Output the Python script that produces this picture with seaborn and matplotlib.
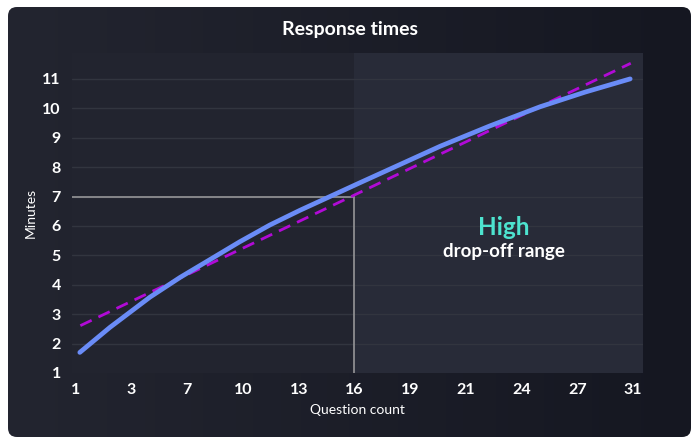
import matplotlib
matplotlib.use("Agg")
import matplotlib.pyplot as plt
import numpy as np
import pandas as pd
import seaborn as sns
from matplotlib.patches import FancyBboxPatch

# tick labels on the x axis (evenly spaced in the chart)
question_ticks = ["1", "3", "7", "10", "13", "16", "19", "21", "24", "27", "31"]
minute_ticks = [1, 2, 3, 4, 5, 6, 7, 8, 9, 10, 11]

# response time curve, x in tick-slot units
curve_x = [0.07, 0.61, 1.33, 1.87, 2.41, 2.94, 3.48, 4.02, 4.56, 5.10,
           5.82, 6.54, 7.43, 8.33, 9.14, 9.95]
curve_y = [1.70, 2.55, 3.58, 4.25, 4.86, 5.46, 6.03, 6.53, 7.00, 7.47,
           8.09, 8.71, 9.40, 10.05, 10.55, 11.00]

# dashed trend line
trend_x = [0.08, 9.96]
trend_y = [2.61, 11.53]

# marker lines at 16 questions / 7 minutes
marker_slot = 5
marker_minutes = 7

sns.set_theme(style="dark")
plt.rcParams["font.family"] = ["Lato", "DejaVu Sans"]

fig = plt.figure(figsize=(7, 4.45), dpi=100)
fig.patch.set_facecolor("white")

# card background with a horizontal gradient
bg = fig.add_axes([0, 0, 1, 1], zorder=-2)
bg.set_xlim(0, 700)
bg.set_ylim(445, 0)
bg.axis("off")
grad = np.linspace(0, 1, 256).reshape(1, -1)
cmap = matplotlib.colors.LinearSegmentedColormap.from_list("card", ["#232530", "#151721"])
img = bg.imshow(grad, cmap=cmap, extent=[8, 691, 437, 7], aspect="auto")
card = FancyBboxPatch((8, 7), 683, 430, boxstyle="round,pad=0,rounding_size=9",
                      transform=bg.transData, facecolor="none", edgecolor="none")
bg.add_patch(card)
img.set_clip_path(card)

ax = fig.add_axes([72 / 700, 1 - 373 / 445, 571 / 700, 320 / 445])
ax.set_facecolor("#22242f")
ax.set_xlim(-0.07, 10.18)
ax.set_ylim(1, 11.88)

ax.axvspan(marker_slot, 10.18, color="#282b38", zorder=0, lw=0)
for m in minute_ticks[1:]:
    ax.axhline(m, color="#32353f", lw=1, zorder=1)

ax.plot([-0.07, marker_slot], [marker_minutes, marker_minutes], color="#8d8d90", lw=1.3, zorder=2)
ax.plot([marker_slot, marker_slot], [1, marker_minutes], color="#8d8d90", lw=1.3, zorder=2)

df = pd.DataFrame({"slot": curve_x, "minutes": curve_y})
sns.lineplot(data=df, x="slot", y="minutes", ax=ax, color="#6a8cf7", lw=3.4,
             solid_capstyle="round", solid_joinstyle="round", zorder=4)
trend = pd.DataFrame({"slot": trend_x, "minutes": trend_y})
sns.lineplot(data=trend, x="slot", y="minutes", ax=ax, color="#b10ad6", lw=2.0,
             dashes=False, zorder=3).lines[-1].set_dashes((4.5, 2.7))

ax.set_xticks(range(len(question_ticks)))
ax.set_xticklabels(question_ticks)
ax.set_yticks(minute_ticks)
ax.tick_params(axis="both", length=0, colors="white", labelsize=11.5)
ax.tick_params(axis="x", pad=7)
ax.tick_params(axis="y", pad=8)
for lab in ax.get_xticklabels() + ax.get_yticklabels():
    lab.set_fontweight("bold")
for s in ax.spines.values():
    s.set_visible(False)
ax.grid(False)

ax.set_xlabel("Question count", color="white", fontsize=10, labelpad=5)
ax.set_ylabel("Minutes", color="white", fontsize=10, labelpad=4)

fig.text(0.5, 1 - 30 / 445, "Response times", color="white", fontsize=14,
         fontweight="bold", ha="center", va="center")
ax.text(7.68, 5.95, "High", color="#4de3cf", fontsize=17.5, fontweight="bold",
        ha="center", va="center")
ax.text(7.68, 5.13, "drop-off range", color="white", fontsize=13.5, fontweight="bold",
        ha="center", va="center")

fig.savefig("out.png", dpi=100)
